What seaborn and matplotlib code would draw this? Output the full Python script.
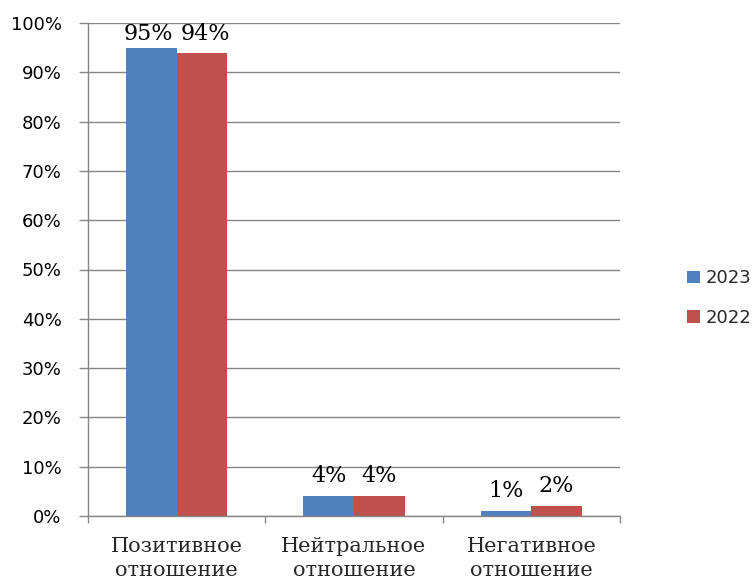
import matplotlib
matplotlib.use("Agg")
import matplotlib.pyplot as plt
import seaborn as sns
import pandas as pd
from matplotlib.patches import Patch
from matplotlib.ticker import FixedLocator, FuncFormatter

categories = ["Позитивное\nотношение", "Нейтральное\nотношение", "Негативное\nотношение"]
series_names = ["2023", "2022"]
values_2023 = [95, 4, 1]
values_2022 = [94, 4, 2]
colors = ["#4F81BD", "#C0504D"]

df = pd.DataFrame({
    "category": categories * 2,
    "year": [series_names[0]] * 3 + [series_names[1]] * 3,
    "value": values_2023 + values_2022,
})

sns.set_theme(style="white")
plt.rcParams["font.family"] = ["DejaVu Sans"]

fig = plt.figure(figsize=(7.53, 5.79), dpi=100)
ax = fig.add_axes([88 / 753, 63 / 579, 532 / 753, 493 / 579])

sns.barplot(data=df, x="category", y="value", hue="year", order=categories,
            hue_order=series_names, palette=colors, width=0.57, saturation=1,
            ax=ax, legend=False, edgecolor="none")

ax.set_xlim(-0.5, 2.5)
ax.set_ylim(0, 100)
ax.yaxis.set_major_locator(FixedLocator(list(range(0, 101, 10))))
ax.yaxis.set_major_formatter(FuncFormatter(lambda v, p: f"{int(v)}%"))
ax.grid(axis="y", color="#868686", linewidth=1)
ax.set_axisbelow(True)
ax.set_xlabel("")
ax.set_ylabel("")

for s in ["top", "right"]:
    ax.spines[s].set_visible(False)
for s in ["left", "bottom"]:
    ax.spines[s].set_color("#868686")
    ax.spines[s].set_linewidth(1)

ax.xaxis.set_ticks_position("bottom")
ax.yaxis.set_ticks_position("left")
ax.tick_params(axis="y", which="major", length=6.5, color="#868686", width=1,
               labelsize=13, pad=12.5, labelcolor="black", direction="out")
ax.xaxis.set_minor_locator(FixedLocator([-0.5, 0.5, 1.5, 2.5]))
ax.tick_params(axis="x", which="minor", length=5, color="#868686", width=1,
               direction="out")
ax.tick_params(axis="x", which="major", length=0, pad=15)
for lbl in ax.get_xticklabels():
    lbl.set_fontfamily("DejaVu Serif")
    lbl.set_fontsize(15)
    lbl.set_linespacing(1.35)

label_sets = []
for cont in ax.containers:
    label_sets.append(ax.bar_label(cont, labels=[f"{int(v)}%" for v in cont.datavalues],
                                   padding=6.5, fontsize=16, fontfamily="DejaVu Serif",
                                   color="black"))

# keep data labels inside the plot area and apart from each other
fig.canvas.draw()
renderer = fig.canvas.get_renderer()
ax_top = ax.get_window_extent(renderer).y1
for t in [t for s in label_sets for t in s]:
    ext = t.get_window_extent(renderer)
    if ext.y1 > ax_top:
        dx, dy = t.xyann
        t.xyann = (dx, dy - (ext.y1 - ax_top) * 72 / fig.dpi)
fig.canvas.draw()
gap_px = 8
for left_t, right_t in zip(label_sets[0], label_sets[1]):
    e1 = left_t.get_window_extent(renderer)
    e2 = right_t.get_window_extent(renderer)
    vert_overlap = min(e1.y1, e2.y1) > max(e1.y0, e2.y0)
    overlap = e1.x1 + gap_px - e2.x0
    if vert_overlap and overlap > 0:
        shift = overlap / 2 * 72 / fig.dpi
        left_t.xyann = (left_t.xyann[0] - shift, left_t.xyann[1])
        right_t.xyann = (right_t.xyann[0] + shift, right_t.xyann[1])

handles = [Patch(facecolor=c, edgecolor="none") for c in colors]
fig.legend(handles, series_names, loc="center left", bbox_to_anchor=(680 / 753, 1 - 298 / 579),
           frameon=False, fontsize=13, handlelength=0.7, handleheight=0.7,
           handletextpad=0.3, labelspacing=1.2, borderaxespad=0)

fig.savefig("out.png", dpi=100)
